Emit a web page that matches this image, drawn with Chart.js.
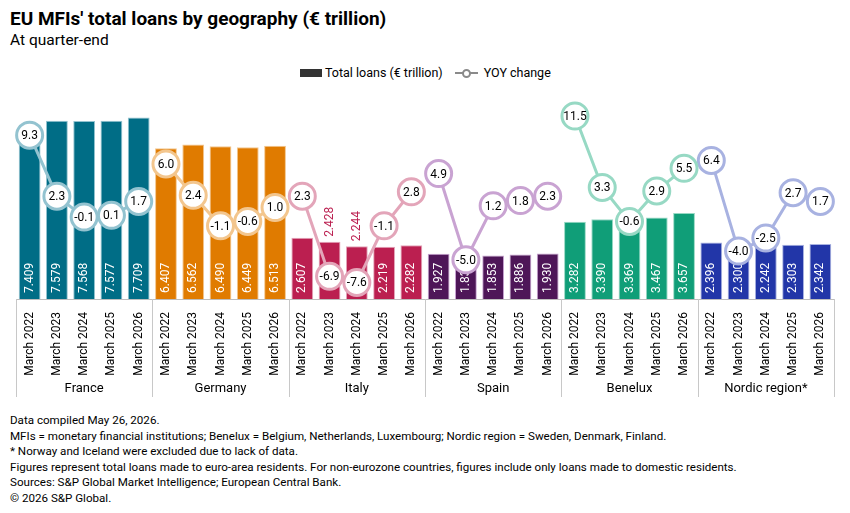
<!DOCTYPE html>
<html>
<head>
<meta charset="utf-8">
<script src="https://cdn.jsdelivr.net/npm/chart.js@4.4.1/dist/chart.umd.min.js"></script>
<style>
  body { margin: 0; width: 850px; height: 513px; position: relative; background: #fff; font-family: Roboto, sans-serif; color: #000; overflow: hidden; }
  #title { position: absolute; left: 10px; top: 6px; font-size: 19px; font-weight: bold; line-height: 26px; }
  #sub { position: absolute; left: 10px; top: 30px; font-size: 15.5px; line-height: 20px; }
  #legend { position: absolute; left: 300px; top: 66px; font-size: 12.5px; line-height: 14px; display: flex; align-items: center; }
  .sw { width: 22px; height: 8px; background: #333; margin-right: 3px; }
  .ln { position: relative; width: 23px; height: 12px; margin: 0 6px 0 12px; }
  .ln:before { content: ""; position: absolute; left: 0; right: 0; top: 5px; height: 2px; background: #8a8a8a; }
  .ln:after { content: ""; position: absolute; left: 7px; top: 2px; width: 5px; height: 5px; border: 2px solid #8a8a8a; border-radius: 50%; background: #fff; }
  #notes { position: absolute; left: 10px; top: 413px; font-size: 11.6px; line-height: 15.6px; }
  canvas { position: absolute; left: 0; top: 0; }
</style>
</head>
<body>
<div id="title">EU MFIs' total loans by geography (€ trillion)</div>
<div id="sub">At quarter-end</div>
<div id="legend"><div class="sw"></div>Total loans (€ trillion)<div class="ln"></div>YOY change</div>
<canvas id="chart" width="850" height="400"></canvas>
<div id="notes">
  Data compiled May 26, 2026.<br>
  MFIs = monetary financial institutions; Benelux = Belgium, Netherlands, Luxembourg; Nordic region = Sweden, Denmark, Finland.<br>
  * Norway and Iceland were excluded due to lack of data.<br>
  Figures represent total loans made to euro-area residents. For non-eurozone countries, figures include only loans made to domestic residents.<br>
  Sources: S&amp;P Global Market Intelligence; European Central Bank.<br>
  © 2026 S&amp;P Global.
</div>
<script>
const regions = ['France', 'Germany', 'Italy', 'Spain', 'Benelux', 'Nordic region*'];
const quarters = ['March 2022', 'March 2023', 'March 2024', 'March 2025', 'March 2026'];

const loans = [
  [7.409, 7.579, 7.568, 7.577, 7.709],
  [6.407, 6.562, 6.490, 6.449, 6.513],
  [2.607, 2.428, 2.244, 2.219, 2.282],
  [1.927, 1.835, 1.853, 1.886, 1.930],
  [3.282, 3.390, 3.369, 3.467, 3.657],
  [2.396, 2.300, 2.242, 2.303, 2.342]
];
const yoy = [
  [9.3, 2.3, -0.1, 0.1, 1.7],
  [6.0, 2.4, -1.1, -0.6, 1.0],
  [2.3, -6.9, -7.6, -1.1, 2.8],
  [4.9, -5.0, 1.2, 1.8, 2.3],
  [11.5, 3.3, -0.6, 2.9, 5.5],
  [6.4, -4.0, -2.5, 2.7, 1.7]
];

const barColors = ['#006d86', '#e07b00', '#bb1f50', '#4e1658', '#109e78', '#2236a8'];
const lineColors = ['#93c3d0', '#f3c68e', '#e3a5b9', '#c9a3d2', '#97d9c4', '#a8b2e1'];
// Italy 2023/2024 bar labels sit above the bar (circle covers the inside)
const labelAbove = [11, 12];

const labels = [];
const barData = [];
const barBg = [];
const barBorder = [];
regions.forEach((r, g) => {
  quarters.forEach((q, i) => {
    labels.push(q);
    barData.push(loans[g][i]);
    barBg.push(barColors[g]);
    barBorder.push(lineColors[g]);
  });
});

const lineSets = regions.map((r, g) => {
  const data = labels.map(() => null);
  yoy[g].forEach((v, i) => { data[g * 5 + i] = v; });
  return {
    type: 'line',
    label: 'YOY change ' + r,
    data: data,
    yAxisID: 'y2',
    borderColor: lineColors[g],
    borderWidth: 3,
    pointRadius: 13,
    pointBorderWidth: 3,
    pointBackgroundColor: '#fff',
    pointBorderColor: lineColors[g],
    spanGaps: false,
    order: 1
  };
});

const valuePlugin = {
  id: 'values',
  afterDatasetDraw(chart, args) {
    if (args.index !== 0) return;
    const ctx = chart.ctx;
    ctx.save();
    ctx.font = '12px Roboto';
    args.meta.data.forEach((bar, i) => {
      const txt = barData[i].toFixed(3);
      ctx.save();
      if (labelAbove.includes(i)) {
        ctx.translate(bar.x, bar.y - 5);
        ctx.fillStyle = barBg[i];
      } else {
        ctx.translate(bar.x, bar.base - 6);
        ctx.fillStyle = '#fff';
      }
      ctx.rotate(-Math.PI / 2);
      ctx.textAlign = 'left';
      ctx.textBaseline = 'middle';
      ctx.fillText(txt, 0, 0);
      ctx.restore();
    });
    ctx.restore();
  },
  afterDatasetsDraw(chart) {
    const ctx = chart.ctx;
    ctx.save();
    ctx.font = '12px Roboto';
    ctx.fillStyle = '#000';
    ctx.textAlign = 'center';
    ctx.textBaseline = 'middle';
    for (let g = 0; g < regions.length; g++) {
      const meta = chart.getDatasetMeta(g + 1);
      yoy[g].forEach((v, i) => {
        const pt = meta.data[g * 5 + i];
        ctx.fillText(v.toFixed(1), pt.x, pt.y + 1);
      });
    }
    ctx.restore();
  },
  afterDraw(chart) {
    const ctx = chart.ctx;
    const a = chart.chartArea;
    const w = (a.right - a.left) / regions.length;
    ctx.save();
    ctx.strokeStyle = '#c8c8c8';
    ctx.lineWidth = 1;
    for (let g = 0; g <= regions.length; g++) {
      const x = Math.round(a.left + g * w) + 0.5;
      ctx.beginPath();
      ctx.moveTo(x, a.bottom);
      ctx.lineTo(x, a.bottom + 98);
      ctx.stroke();
    }
    ctx.font = '13px Roboto';
    ctx.fillStyle = '#000';
    ctx.textAlign = 'center';
    ctx.textBaseline = 'middle';
    regions.forEach((r, g) => {
      ctx.fillText(r, a.left + (g + 0.5) * w, a.bottom + 90);
    });
    ctx.restore();
  }
};

new Chart(document.getElementById('chart'), {
  type: 'bar',
  data: {
    labels: labels,
    datasets: [{
      label: 'Total loans (€ trillion)',
      data: barData,
      backgroundColor: barBg,
      borderColor: barBorder,
      borderWidth: 1,
      barPercentage: 0.8,
      categoryPercentage: 1,
      yAxisID: 'y',
      order: 10
    }].concat(lineSets)
  },
  options: {
    responsive: false,
    animation: false,
    layout: { padding: { left: 15, right: 15, top: 99, bottom: 0 } },
    plugins: {
      legend: { display: false },
      tooltip: { enabled: false }
    },
    scales: {
      x: {
        grid: { display: false },
        border: { display: true, color: '#bdbdbd' },
        ticks: {
          autoSkip: false,
          minRotation: 90,
          maxRotation: 90,
          padding: 5,
          color: '#000',
          font: { family: 'Roboto', size: 12 }
        },
        afterFit(scale) { scale.height = 101; }
      },
      y: { display: false, min: 0, max: 8.5 },
      y2: { display: false, min: -9.5, max: 13.45 }
    }
  },
  plugins: [valuePlugin]
});
</script>
</body>
</html>
